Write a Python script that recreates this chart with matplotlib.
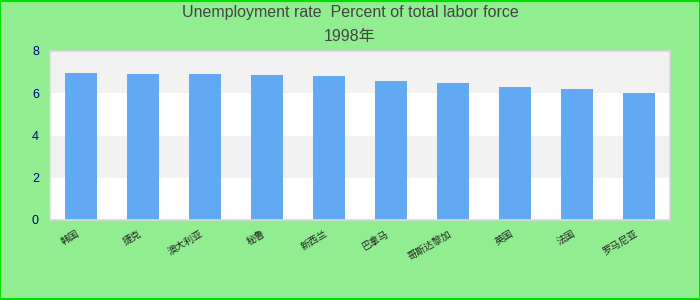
import matplotlib.pyplot as plt
import numpy as np

plt.rcParams['font.family'] = ['Liberation Sans', 'Noto Sans CJK SC', 'DejaVu Sans']

title = "Unemployment rate  Percent of total labor force"
subtitle = "1998年"
countries = ["韩国", "捷克", "澳大利亚", "秘鲁", "新西兰", "巴拿马", "哥斯达黎加", "英国", "法国", "罗马尼亚"]
rates = [6.95, 6.9, 6.9, 6.85, 6.8, 6.57, 6.47, 6.28, 6.19, 6.0]
yticks = [0, 2, 4, 6, 8]

fig = plt.figure(figsize=(7, 3), dpi=100, facecolor='#90ee90')
fig.patches.append(plt.Rectangle((0.0007, 0.0017), 0.9986, 0.9966, transform=fig.transFigure,
                                 fill=False, edgecolor='#00e000', linewidth=1.5))

ax = fig.add_axes([50 / 700, 80 / 300, 620 / 700, 169 / 300])
ax.set_facecolor('white')

# alternating bands
for i, (lo, hi) in enumerate(zip(yticks[:-1], yticks[1:])):
    ax.axhspan(lo, hi, color='white' if i % 2 == 0 else '#f2f2f2', zorder=0, lw=0)

x = np.arange(len(countries))
ax.bar(x, rates, width=0.52, color='#62a9f4', zorder=2)

ax.set_xlim(-0.5, len(countries) - 0.5)
ax.set_ylim(0, 8)
ax.set_yticks(yticks)
ax.tick_params(axis='y', length=0, colors='#00008b', labelsize=9, pad=8)
ax.set_xticks(x)
ax.set_xticklabels(countries, rotation=30, ha='right', fontsize=7, color='#222222')
ax.tick_params(axis='x', length=0, pad=6)
for s in ax.spines.values():
    s.set_color('#d8d8d8')
    s.set_linewidth(1.2)

fig.text(0.5, 1 - 13 / 300, title, ha='center', va='center', fontsize=11.5, color='#444444')
fig.text(0.5, 1 - 37 / 300, subtitle, ha='center', va='center', fontsize=11.5, color='#444444')

fig.savefig('out.png', dpi=100, facecolor=fig.get_facecolor())
